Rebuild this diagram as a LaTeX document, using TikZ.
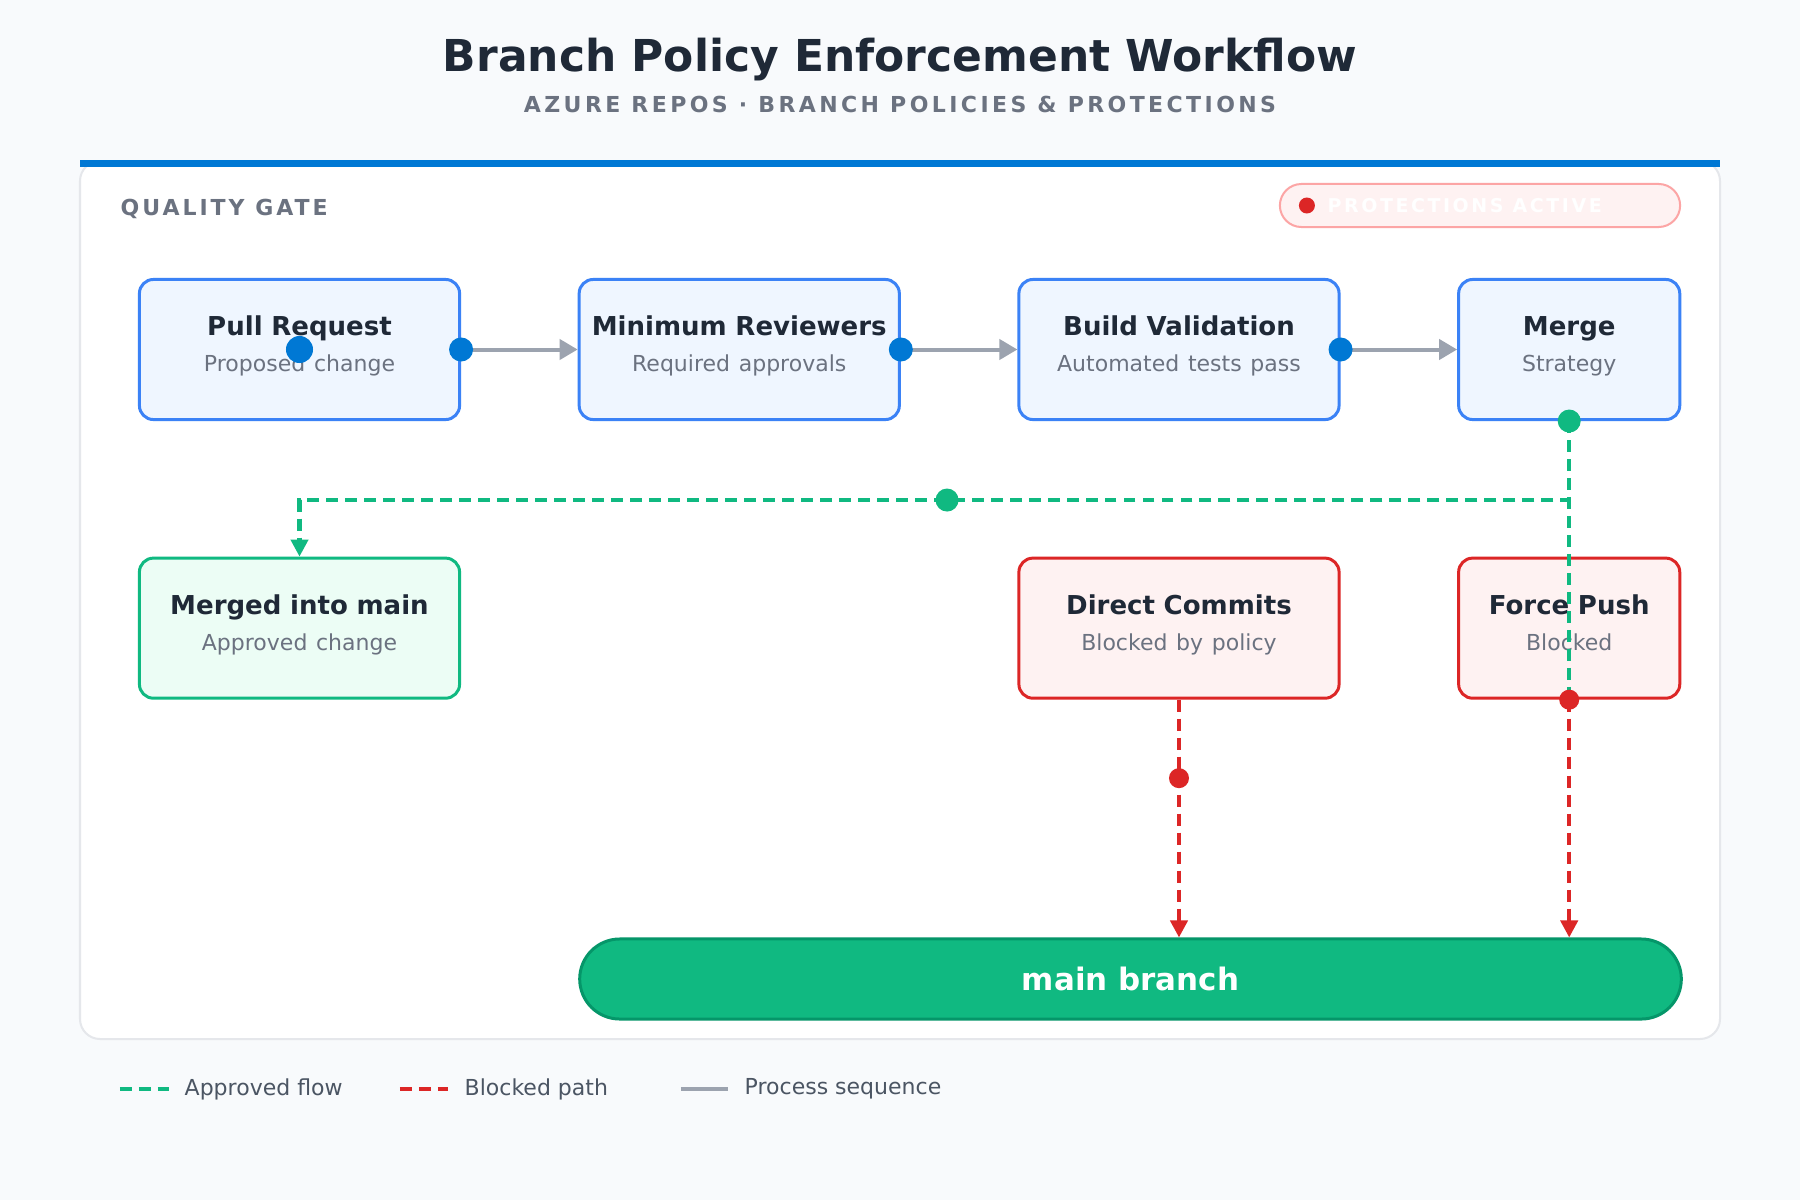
\documentclass[tikz,border=0pt]{standalone}
\usepackage{fontspec}
\setmainfont{DejaVu Sans}
\newfontfamily\spacedfont[LetterSpace=13.5]{DejaVu Sans}
\usetikzlibrary{arrows.meta,positioning,calc}
\usepackage{xcolor}

\definecolor{pagebg}{HTML}{F8FAFC}
\definecolor{cardline}{HTML}{E5E7EB}
\definecolor{azure}{HTML}{0078D4}
\definecolor{ink}{HTML}{1F2937}
\definecolor{muted}{HTML}{6B7280}
\definecolor{legendink}{HTML}{4B5563}
\definecolor{stepblue}{HTML}{3B82F6}
\definecolor{stepfill}{HTML}{EFF6FF}
\definecolor{stopred}{HTML}{DC2626}
\definecolor{stopfill}{HTML}{FEF2F2}
\definecolor{okgreen}{HTML}{10B981}
\definecolor{okdark}{HTML}{059669}
\definecolor{okfill}{HTML}{ECFDF5}
\definecolor{seqgrey}{HTML}{9CA3AF}
\definecolor{pillline}{HTML}{FCA5A5}

\newcommand\subfont{\mdseries\color{muted}\fontsize{6.26}{10.3}\selectfont}

\begin{document}
\begin{tikzpicture}[
            x=0.01cm, y=-0.01cm,
            node distance=1.355cm and 1.165cm,
            flow/.style={rectangle, draw=stepblue, fill=stepfill, line width=0.85pt, rounded corners=0.14cm, align=center, text width=3.1cm, minimum width=3.2cm, minimum height=1.4cm, inner sep=0pt, text height=0.2cm, text depth=0.48cm, font=\fontsize{7.4}{10.3}\selectfont\bfseries, text=ink},
            okbox/.style={flow, draw=okgreen, fill=okfill},
            stopbox/.style={flow, draw=stopred, fill=stopfill},
            mainbar/.style={rectangle, draw=okdark, fill=okgreen, line width=0.85pt, rounded corners=0.4cm, minimum width=11.01cm, minimum height=0.8cm, text=white, font=\fontsize{8.8}{10}\selectfont\bfseries},
            seq/.style={-{Triangle[length=0.18cm,width=0.2cm]}, draw=seqgrey, line width=1.14pt},
            approved/.style={draw=okgreen, line width=1.14pt, dash pattern=on 3.4pt off 2pt},
            blocked/.style={draw=stopred, line width=1.14pt, dash pattern=on 3.4pt off 2pt},
            tip/.style={-{Triangle[length=0.17cm,width=0.17cm]}},
            bluedot/.style={circle, fill=azure, inner sep=0pt, minimum size=0.24cm},
            greendot/.style={circle, fill=okgreen, inner sep=0pt, minimum size=0.23cm},
            reddot/.style={circle, fill=stopred, inner sep=0pt, minimum size=0.2cm},
            legend/.style={anchor=west, inner sep=0pt, text=legendink, font=\fontsize{6.26}{8}\selectfont}
        ]
            % --- background and card ---
            \useasboundingbox (0,0) rectangle (1800,1200);
            \fill[pagebg] (0,0) rectangle (1800,1200);
            \draw[cardline, fill=white, line width=0.57pt, rounded corners=0.2cm] (80,161) rectangle (1720,1039);
            \fill[azure] (80,160) rectangle (1720,167);

            % --- TITLE ---
            \node[text=ink, font=\fontsize{12.5}{14}\selectfont\bfseries] (title) at (900,60) {Branch Policy Enforcement Workflow};
            \node[text=muted, font=\spacedfont\addfontfeature{LetterSpace=15.5}\fontsize{6.26}{7}\selectfont\bfseries] (subtitle) at (900,104) {AZURE REPOS · BRANCH POLICIES \& PROTECTIONS};

            \node[anchor=west, inner sep=0pt, text=muted, font=\spacedfont\fontsize{6.26}{7}\selectfont\bfseries] (gate) at (120,209) {QUALITY GATE};

            % badge
            \node[rectangle, draw=pillline, fill=stopfill, line width=0.57pt, rounded corners=0.215cm, minimum width=4cm, minimum height=0.43cm] (badge) at (1480,205.5) {};
            \node[reddot, minimum size=0.16cm] (badgedot) at ([xshift=0.28cm]badge.west) {};
            \node[anchor=west, inner sep=0pt, text=white, font=\spacedfont\fontsize{5.4}{7}\selectfont\bfseries] (badgetxt) at ([xshift=0.2cm]badgedot.center) {PROTECTIONS ACTIVE};

            % --- PROCESS ROW ---
            \node[flow] (pr) at (299.5,349.5) {Pull Request\\{\subfont Proposed change}};
            \node[flow, right=of pr] (reviewers) {Minimum Reviewers\\{\subfont Required approvals}};
            \node[flow, right=of reviewers] (build) {Build Validation\\{\subfont Automated tests pass}};
            \node[flow, right=of build, minimum width=2.21cm, text width=2.1cm] (merge) {Merge\\{\subfont Strategy}};

            % --- OUTCOMES ---
            \node[okbox, below=of pr] (merged) {Merged into main\\{\subfont Approved change}};
            \node[stopbox, below=of build] (direct) {Direct Commits\\{\subfont Blocked by policy}};
            \node[stopbox, below=of merge, minimum width=2.21cm, text width=2.1cm] (force) {Force Push\\{\subfont Blocked}};

            \node[mainbar] (main) at (1130.5,979) {main branch};

            % --- LINKS ---
            \draw[seq] (pr.east) -- (reviewers.west);
            \draw[seq] (reviewers.east) -- (build.west);
            \draw[seq] (build.east) -- (merge.west);

            % approved route
            \coordinate (turn) at ($(merge.south)+(0,79)$);
            \draw[approved, tip] (merge.south) -- (turn) -- node[greendot, pos=0.49] (middot) {} (turn -| merged.north) -- (merged.north);
            \draw[approved] (merge.south) -- (force.south);

            % blocked routes
            \draw[blocked, tip] (direct.south) -- node[reddot, pos=0.33] (directdot) {} (direct.south |- main.north);
            \draw[blocked, tip] (force.south) -- (force.south |- main.north);

            % port dots
            \node[bluedot, minimum size=0.27cm] (prdot) at (pr.center) {};
            \node[bluedot] (prport) at (pr.east) {};
            \node[bluedot] (revport) at (reviewers.east) {};
            \node[bluedot] (buildport) at (build.east) {};
            \node[greendot] (mergeport) at (merge.south) {};
            \node[reddot] (forceport) at (force.south) {};

            % --- LEGEND ---
            \node[legend] (lgok) at (184,1089) {Approved flow};
            \node[legend] (lgstop) at (464,1089) {Blocked path};
            \node[legend] (lgseq) at (744,1089) {Process sequence};
            \draw[approved] ([xshift=-0.64cm]lgok.west) -- ([xshift=-0.15cm]lgok.west);
            \draw[blocked] ([xshift=-0.64cm]lgstop.west) -- ([xshift=-0.16cm]lgstop.west);
            \draw[draw=seqgrey, line width=1.14pt] ([xshift=-0.63cm]lgseq.west) -- ([xshift=-0.16cm]lgseq.west);
        \end{tikzpicture}
\end{document}
